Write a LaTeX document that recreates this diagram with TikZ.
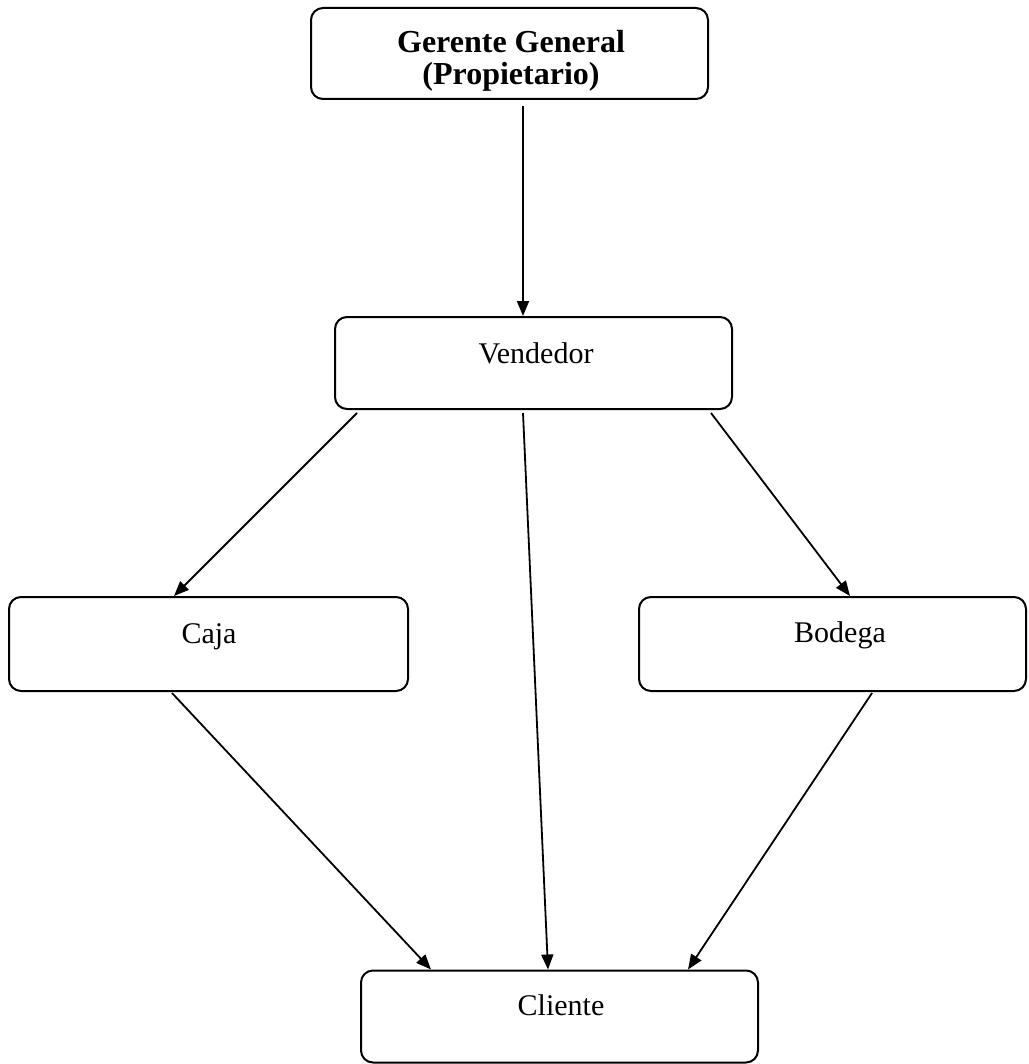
\documentclass[tikz,border=0pt]{standalone}
\usepackage{fontspec}
\setmainfont{Liberation Serif}
\usetikzlibrary{arrows.meta}
\tikzset{
  box/.style={draw=black, line width=2pt, rounded corners=12pt, inner sep=0pt, fill=none},
  txt/.style={inner sep=0pt, anchor=base, font=\fontsize{30}{32}\selectfont},
  btxt/.style={inner sep=0pt, align=center, anchor=north, font=\fontsize{32}{32}\selectfont\bfseries},
  arr/.style={draw=black, line width=1.8pt, -{Triangle[length=15pt,width=12pt]}}
}
\begin{document}
\begin{tikzpicture}[x=1pt,y=-1pt]
\useasboundingbox (0,0) rectangle (1028,1064);
% boxes
\node[box, minimum width=397pt, minimum height=91pt] (ger) at (509.5,53.5) {};
\node[box, minimum width=397pt, minimum height=92pt] (ven) at (533.5,363) {};
\node[box, minimum width=399pt, minimum height=94pt] (caja) at (208.5,644) {};
\node[box, minimum width=387pt, minimum height=94pt] (bod) at (832.5,644) {};
\node[box, minimum width=397pt, minimum height=92pt] (cli) at (559.5,1016.5) {};
% texts
\node[btxt] (tger) at (511,30) {Gerente General\\(Propietario)};
\node[txt] (tven) at (536,363) {Vendedor};
\node[txt] (tcaja) at (209,643) {Caja};
\node[txt] (tbod) at (840,642) {Bodega};
\node[txt] (tcli) at (561,1015) {Cliente};
% connectors
\draw[arr] ([xshift=13.5pt,yshift=-6pt]ger.south) -- ([xshift=-10.5pt]ven.north);
\draw[arr] ([xshift=-176.5pt,yshift=-3pt]ven.south) -- ([xshift=-34.5pt]caja.north);
\draw[arr] ([xshift=-10.5pt,yshift=-3pt]ven.south) -- ([xshift=-11.5pt]cli.north);
\draw[arr] ([xshift=177.5pt,yshift=-3pt]ven.south) -- ([xshift=17.5pt]bod.north);
\draw[arr] ([xshift=-36.5pt,yshift=-1pt]caja.south) -- ([xshift=-128.5pt]cli.north);
\draw[arr] ([xshift=39.5pt,yshift=-1pt]bod.south) -- ([xshift=128.5pt]cli.north);
\end{tikzpicture}
\end{document}
